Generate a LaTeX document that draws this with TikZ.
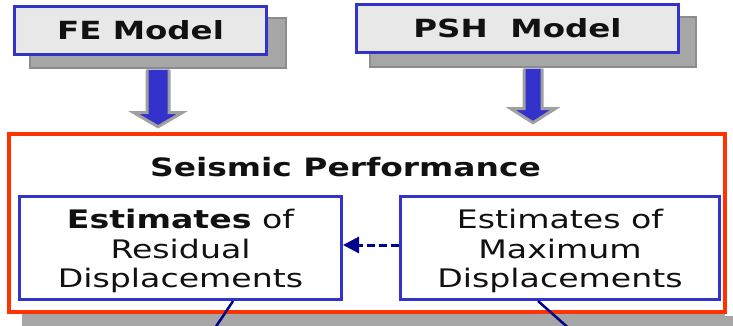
\documentclass[tikz,border=0pt]{standalone}
\usepackage{fontspec}
\setmainfont{DejaVu Sans}[FakeStretch=1.3]
\usetikzlibrary{arrows.meta}
\definecolor{bluec}{RGB}{51,51,204}
\definecolor{redc}{RGB}{255,51,0}
\definecolor{boxgray}{RGB}{232,232,232}
\definecolor{shadowgray}{RGB}{166,166,166}
\definecolor{shadowdark}{RGB}{140,140,140}
\definecolor{arrowgray}{RGB}{160,160,160}
\definecolor{navyc}{RGB}{0,0,140}
\definecolor{textc}{RGB}{17,17,17}
\tikzset{
  shadowbox/.style={fill=shadowgray, draw=shadowdark, line width=1.5pt, inner sep=0pt},
  modelbox/.style={draw=bluec, line width=3pt, fill=boxgray, inner sep=0pt, text=textc,
    font=\fontsize{25}{29}\selectfont\bfseries},
  fatarrow/.style={fill=bluec, draw=arrowgray, line width=3pt, line join=miter},
  outerbox/.style={draw=redc, line width=4pt, fill=white, inner sep=0pt},
  estbox/.style={draw=bluec, line width=3pt, fill=white, inner sep=0pt},
  estext/.style={align=center, inner sep=0pt, text=textc, font=\fontsize{25.5}{29.5}\selectfont},
  titletext/.style={inner sep=0pt, text=textc, font=\fontsize{25.3}{29}\selectfont\bfseries},
  dashlink/.style={draw=navyc, line width=3pt, dash pattern=on 8pt off 4pt},
  link/.style={draw=navyc, line width=2.5pt}
}
\begin{document}
\begin{tikzpicture}[x=1pt,y=-1pt]
\useasboundingbox (0,0) rectangle (733,326);
% shadows
\node[shadowbox, minimum width=256pt, minimum height=50pt] (feS) at (158,43) {};
\node[shadowbox, minimum width=326pt, minimum height=50pt] (psS) at (533,42) {};
\fill[shadowgray] (22,150) rectangle (725,340);
\fill[shadowgray] (725,316) rectangle (735,340);
% model boxes
\node[modelbox, minimum width=252pt, minimum height=48pt] (fe) at (140.5,30.5) {FE Model};
\node[modelbox, minimum width=322pt, minimum height=48pt] (ps) at (517.5,28.5) {PSH\ \ Model};
% outer red box
\node[outerbox, minimum width=716pt, minimum height=178pt] (red) at (367,223) {};
% fat arrows
\begin{scope}[shift={(feS.south)}]
\draw[fatarrow] (-11,1) -- (-11,44) -- (-24,44) -- (0,58) -- (24,44) -- (11,44) -- (11,1);
\end{scope}
\begin{scope}[shift={(psS.south)}]
\draw[fatarrow] (-9,1) -- (-9,41) -- (-22,41) -- (0,55) -- (22,41) -- (9,41) -- (9,1);
\end{scope}
% title
\node[titletext] (title) at (345.5,167) {Seismic Performance};
% estimate boxes
\node[estbox, minimum width=322pt, minimum height=103pt] (lbox) at (180.5,248) {};
\node[estbox, minimum width=319pt, minimum height=103pt] (rbox) at (560,248) {};
\node[estext] (ltext) at (lbox.center) [yshift=-3pt] {\textbf{Estimates} of\\Residual\\Displacements};
\node[estext] (rtext) at (rbox.center) [yshift=-3pt] {Estimates of\\Maximum\\Displacements};
% dashed arrow
\draw[dashlink, -{Triangle[length=16pt,width=16pt]}] ([yshift=3pt]rbox.west) -- ([yshift=3pt]lbox.east);
% lines leaving the bottom
\coordinate (lend) at (207,340);
\coordinate (rend) at (582,340);
\draw[link] ([xshift=52.5pt]lbox.south) -- (lend);
\draw[link] ([xshift=-22pt]rbox.south) -- (rend);
\end{tikzpicture}
\end{document}
